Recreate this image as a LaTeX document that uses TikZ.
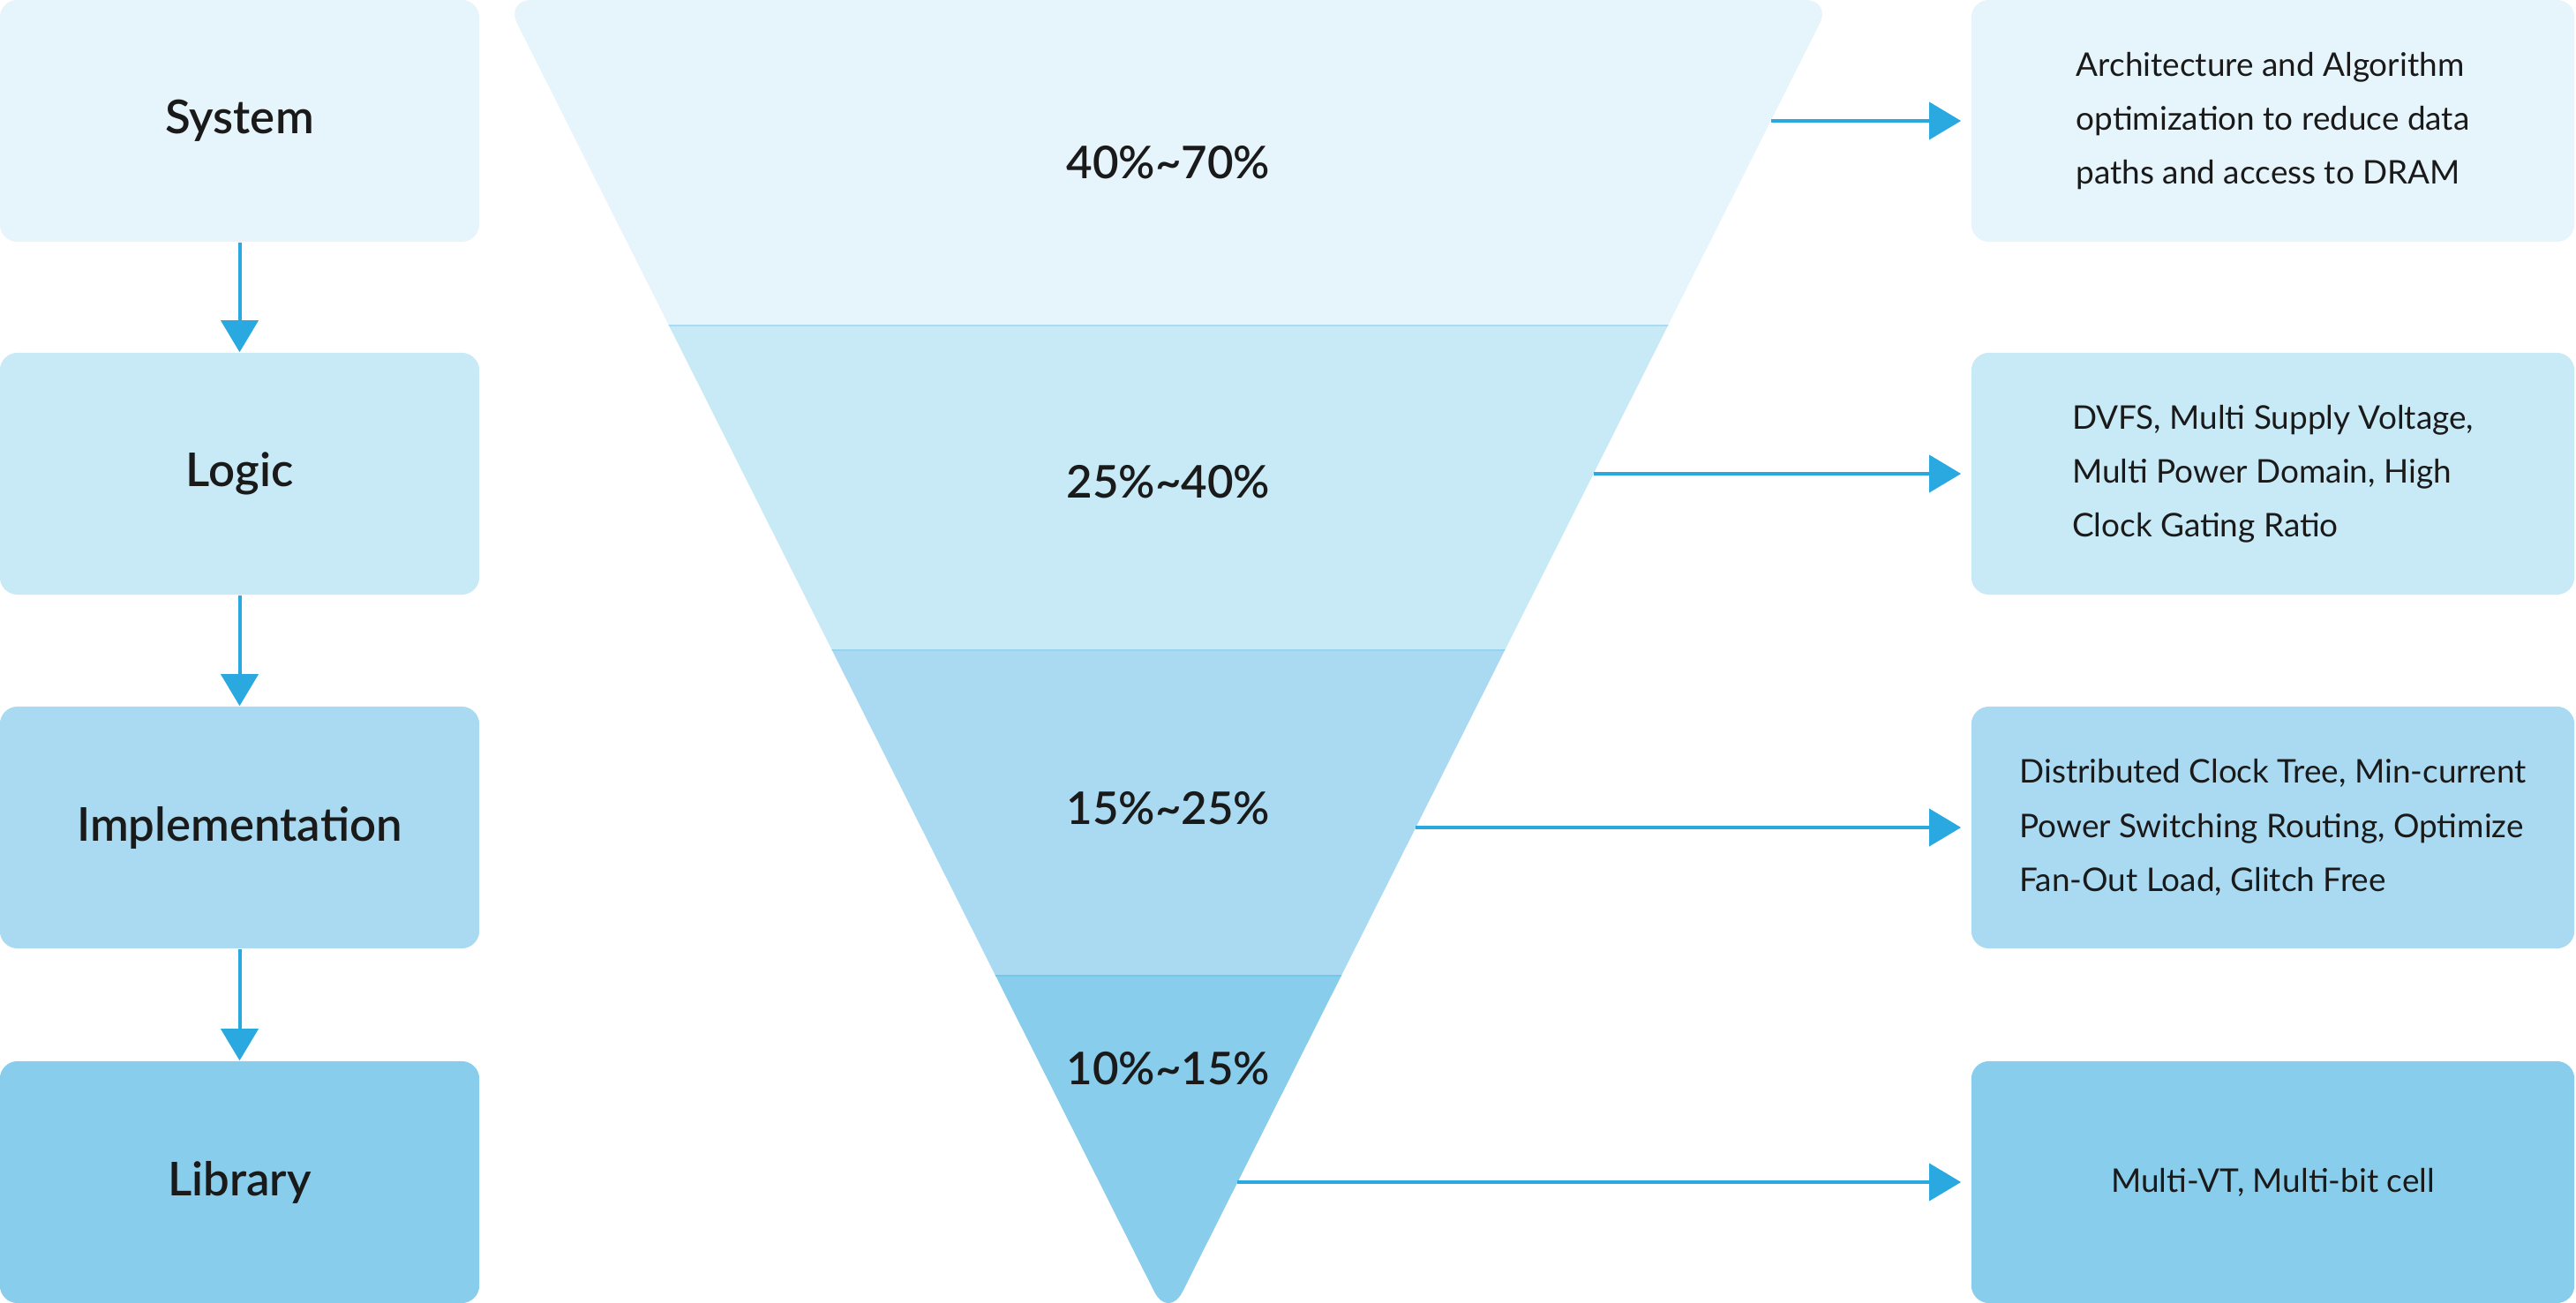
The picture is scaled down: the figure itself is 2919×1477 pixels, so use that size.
\documentclass[tikz,border=0pt]{standalone}
\usepackage{fontspec}
\setmainfont{Lato}
\newfontfamily\bodyf{Lato}
\newfontfamily\semif{Lato Semibold}
\usetikzlibrary{arrows.meta}
\definecolor{cA}{HTML}{E6F4FB}
\definecolor{cB}{HTML}{C8E9F6}
\definecolor{cC}{HTML}{A9DAF1}
\definecolor{cD}{HTML}{88CDEB}
\definecolor{arrc}{HTML}{29A9E0}
\definecolor{txt}{HTML}{1A1A1A}
\tikzset{
  lbox/.style={rectangle, rounded corners=0.2cm, minimum width=5.43cm, minimum height=2.74cm, inner sep=0pt, text=txt, font=\semif\fontsize{15}{18}\selectfont},
  rbox/.style={rectangle, rounded corners=0.2cm, minimum width=6.83cm, minimum height=2.74cm, inner sep=0pt, text=txt, align=left, font=\bodyf\fontsize{10.5}{17.4}\selectfont},
  pct/.style={text=txt, inner sep=0pt, font=\semif\fontsize{14.5}{17}\selectfont},
  arr/.style={draw=arrc, line width=0.04cm, -{Triangle[length=0.36cm, width=0.42cm]}},
  sep/.style={line width=0.02cm}
}
\begin{document}
\begin{tikzpicture}[x=0.01cm, y=-0.01cm]
\useasboundingbox (0,0) rectangle (2919,1477);
% funnel
\def\funnel{(602.6,0) -- (2045.4,0) .. controls (2062,0) and (2069.4,12) .. (2061.9,26.8) -- (1340.2,1463.8) .. controls (1331.3,1481.6) and (1316.7,1481.6) .. (1307.8,1463.8) -- (586.1,26.8) .. controls (578.6,12) and (586,0) .. (602.6,0) -- cycle}
\begin{scope}
\clip \funnel;
\fill[cA] (500,-10) rectangle (2150,369);
\fill[cB] (500,369) rectangle (2150,737);
\fill[cC] (500,737) rectangle (2150,1106);
\fill[cD] (500,1106) rectangle (2150,1500);
\draw[sep, draw=cB!80!arrc] (500,369) -- (2150,369);
\draw[sep, draw=cC!85!arrc] (500,737) -- (2150,737);
\draw[sep, draw=cD!80!arrc] (500,1106) -- (2150,1106);
\end{scope}
\node[pct] (p1) at (1324,184) {40\%\textasciitilde70\%};
\node[pct] (p2) at (1324,546) {25\%\textasciitilde40\%};
\node[pct] (p3) at (1324,916) {15\%\textasciitilde25\%};
\node[pct] (p4) at (1324,1211) {10\%\textasciitilde15\%};
% left boxes
\node[lbox, fill=cA] (l1) at (271.5,137) {System};
\node[lbox, fill=cB] (l2) at (271.5,537) {Logic};
\node[lbox, fill=cC] (l3) at (271.5,938) {Implementation};
\node[lbox, fill=cD] (l4) at (271.5,1340) {Library};
\draw[arr] (l1) -- (l2);
\draw[arr] (l2) -- (l3);
\draw[arr] (l3) -- (l4);
% right boxes
\node[rbox, fill=cA] (r1) at (2575.5,137) {Architecture and Algorithm\\optimization to reduce data\\paths and access to DRAM};
\node[rbox, fill=cB] (r2) at (2575.5,537) {DVFS, Multi Supply Voltage,\\Multi Power Domain, High\\Clock Gating Ratio};
\node[rbox, fill=cC] (r3) at (2575.5,938) {Distributed Clock Tree, Min-current\\Power Switching Routing, Optimize\\Fan-Out Load, Glitch Free};
\node[rbox, fill=cD] (r4) at (2575.5,1340) {Multi-VT, Multi-bit cell};
\coordinate (e1) at (2007,137);
\coordinate (e2) at (1805.7,537);
\coordinate (e3) at (1604.2,938);
\coordinate (e4) at (1402.3,1340);
\draw[arr, shorten >=0.11cm] (e1) -- (r1.west);
\draw[arr, shorten >=0.11cm] (e2) -- (r2.west);
\draw[arr, shorten >=0.11cm] (e3) -- (r3.west);
\draw[arr, shorten >=0.11cm] (e4) -- (r4.west);
\end{tikzpicture}
\end{document}
